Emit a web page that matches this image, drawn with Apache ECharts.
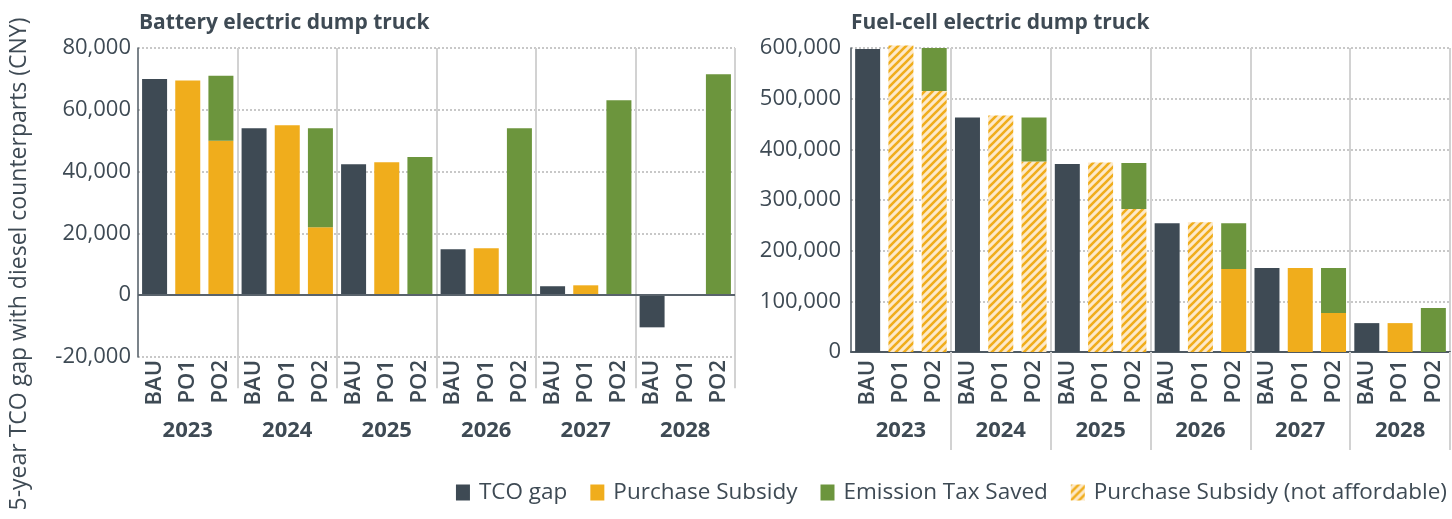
<!DOCTYPE html>
<html>
<head>
<meta charset="utf-8">
<script src="https://cdn.jsdelivr.net/npm/echarts@6/dist/echarts.min.js"></script>
<style>
html, body { margin: 0; padding: 0; background: #fff; }
#chart { width: 1452px; height: 519px; }
</style>
</head>
<body>
<div id="chart"></div>
<script>
const years = ['2023', '2024', '2025', '2026', '2027', '2028']
const scenarios = ['BAU', 'PO1', 'PO2']

// Battery electric dump truck
const bevTcoGap = [70000, 54000, 42400, 14900, 2900, -10400]
const bevSubsidyPO1 = [69500, 55000, 43000, 15200, 3200, 0]
const bevSubsidyPO2 = [50000, 22000, 0, 0, 0, 0]
const bevTaxPO2 = [21000, 32000, 44700, 54000, 63100, 71500]

// Fuel-cell electric dump truck
const fcTcoGap = [598000, 463000, 371000, 254000, 166000, 57000]
const fcSubsidyPO1 = [605000, 467000, 374000, 256000, 166000, 57000]
const fcSubsidyPO2 = [515000, 376000, 282000, 164000, 77000, 0]
const fcTaxPO2 = [85000, 87000, 91000, 90000, 89000, 87000]
const fcAffordablePO1 = [false, false, false, false, true, true]
const fcAffordablePO2 = [false, false, false, true, true, true]

const dark = '#3e4a54'
const yellow = '#f0ad1c'
const green = '#6c953d'
const textColor = '#3e4a54'
const font = 'Open Sans'

const categories = []
years.forEach(() => scenarios.forEach(s => categories.push(s)))

// one value per year placed at BAU / PO1 / PO2 slot
function slot(values, idx, keep) {
  const out = []
  years.forEach((y, i) => {
    scenarios.forEach((s, j) => {
      if (j === idx && (!keep || keep[i])) out.push(values[i])
      else out.push('-')
    })
  })
  return out
}
function merge(a, b) {
  return a.map((v, i) => (v === '-' ? b[i] : v))
}
const not = arr => arr.map(v => !v)

function makeHatch() {
  const c = document.createElement('canvas')
  c.width = 8
  c.height = 8
  const ctx = c.getContext('2d')
  ctx.fillStyle = '#fde9c9'
  ctx.fillRect(0, 0, 8, 8)
  ctx.strokeStyle = yellow
  ctx.lineWidth = 2.6
  ctx.beginPath()
  ctx.moveTo(-1, 9); ctx.lineTo(9, -1)
  ctx.moveTo(-5, 5); ctx.lineTo(5, -5)
  ctx.moveTo(3, 13); ctx.lineTo(13, 3)
  ctx.stroke()
  return c
}
const hatch = { image: makeHatch(), repeat: 'repeat' }

const notFirst = i => i > 0
const sepLine = { color: '#d2d2d2', width: 2 }

function catAxis(gridIndex, margin, showLine) {
  return {
    type: 'category', gridIndex, data: categories, position: 'bottom',
    axisLine: { show: showLine, onZero: false, lineStyle: { color: '#4f5a63', width: 2 } },
    axisTick: { show: false },
    axisLabel: { rotate: 90, margin, fontSize: 22, fontWeight: 600, color: textColor, fontFamily: font }
  }
}
function yearAxis(gridIndex, margin, tickLen) {
  return {
    type: 'category', gridIndex, data: years, position: 'bottom',
    axisLine: { show: false },
    axisTick: { show: true, interval: notFirst, length: tickLen, lineStyle: sepLine },
    splitLine: { show: true, interval: notFirst, lineStyle: sepLine },
    axisLabel: { margin, fontSize: 22, fontWeight: 'bold', color: textColor, fontFamily: font }
  }
}
function valAxis(gridIndex, min, max, interval, margin) {
  return {
    type: 'value', gridIndex, min, max, interval,
    axisLine: { show: true, lineStyle: { color: '#4f5a63', width: 1.5 } },
    axisTick: { show: false },
    splitLine: { lineStyle: { color: '#c8c8c8', type: 'dotted', width: 2 } },
    axisLabel: {
      margin, fontSize: 22, color: textColor, fontFamily: font,
      formatter: v => v.toLocaleString('en-US')
    }
  }
}

const barBase = { type: 'bar', barWidth: 25, barGap: '-100%' }

const series = [
  Object.assign({}, barBase, {
    name: 'TCO gap', xAxisIndex: 0, yAxisIndex: 0, itemStyle: { color: dark },
    data: slot(bevTcoGap, 0),
    markLine: {
      silent: true, symbol: 'none', label: { show: false },
      lineStyle: { color: '#59636c', width: 2, type: 'solid' },
      data: [{ yAxis: 0 }]
    }
  }),
  Object.assign({}, barBase, {
    name: 'Purchase Subsidy', xAxisIndex: 0, yAxisIndex: 0, stack: 'bev', itemStyle: { color: yellow },
    data: merge(slot(bevSubsidyPO1, 1), slot(bevSubsidyPO2, 2))
  }),
  Object.assign({}, barBase, {
    name: 'Emission Tax Saved', xAxisIndex: 0, yAxisIndex: 0, stack: 'bev', itemStyle: { color: green },
    data: slot(bevTaxPO2, 2)
  }),
  Object.assign({}, barBase, {
    name: 'TCO gap', xAxisIndex: 2, yAxisIndex: 1, itemStyle: { color: dark },
    data: slot(fcTcoGap, 0)
  }),
  Object.assign({}, barBase, {
    name: 'Purchase Subsidy', xAxisIndex: 2, yAxisIndex: 1, stack: 'fc', itemStyle: { color: yellow },
    data: merge(slot(fcSubsidyPO1, 1, fcAffordablePO1), slot(fcSubsidyPO2, 2, fcAffordablePO2))
  }),
  Object.assign({}, barBase, {
    name: 'Purchase Subsidy (not affordable)', xAxisIndex: 2, yAxisIndex: 1, stack: 'fc', clip: false,
    itemStyle: { color: hatch },
    data: merge(slot(fcSubsidyPO1, 1, not(fcAffordablePO1)), slot(fcSubsidyPO2, 2, not(fcAffordablePO2)))
  }),
  Object.assign({}, barBase, {
    name: 'Emission Tax Saved', xAxisIndex: 2, yAxisIndex: 1, stack: 'fc', itemStyle: { color: green },
    data: slot(fcTaxPO2, 2)
  })
]

const titleStyle = { fontSize: 21, fontWeight: 'bold', color: textColor, fontFamily: font }

const chart = echarts.init(document.getElementById('chart'))
chart.setOption({
  animation: false,
  textStyle: { fontFamily: font },
  title: [
    { text: 'Battery electric dump truck', left: 134, top: 8, textStyle: titleStyle },
    { text: 'Fuel-cell electric dump truck', left: 846, top: 8, textStyle: titleStyle }
  ],
  legend: {
    right: 0, top: 476, icon: 'rect', itemWidth: 14, itemHeight: 16, itemGap: 23,
    data: ['TCO gap', 'Purchase Subsidy', 'Emission Tax Saved', 'Purchase Subsidy (not affordable)'],
    textStyle: { fontSize: 22.5, color: textColor, fontFamily: font, padding: [0, 0, 0, 4] }
  },
  graphic: [{
    type: 'text', x: 19, y: 264, rotation: Math.PI / 2,
    style: {
      text: '5-year TCO gap with diesel counterparts (CNY)',
      fontSize: 23, fill: textColor, fontFamily: font,
      textAlign: 'center', textVerticalAlign: 'middle'
    }
  }],
  grid: [
    { left: 138, right: 717, top: 48, bottom: 162 },
    { left: 851, right: 2, top: 48, bottom: 167 }
  ],
  xAxis: [
    catAxis(0, 3, false),
    yearAxis(0, 63, 93),
    catAxis(1, 8, true),
    yearAxis(1, 68, 98)
  ],
  yAxis: [
    valAxis(0, -20000, 80000, 20000, 7),
    valAxis(1, 0, 600000, 100000, 10)
  ],
  series
})
</script>
</body>
</html>
